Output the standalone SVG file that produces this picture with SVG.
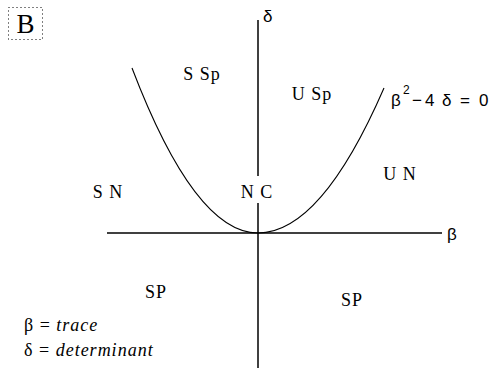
<svg xmlns="http://www.w3.org/2000/svg" width="497" height="368" viewBox="0 0 497 368">
<style>
.lbl{font-family:"Liberation Serif","Times New Roman",serif;font-size:18px;letter-spacing:1px;fill:#000}
.leg{font-family:"Liberation Serif","Times New Roman",serif;font-size:18px;letter-spacing:1px;fill:#000}
.eq{font-family:"Liberation Sans",Arial,sans-serif;font-size:17px;fill:#000}
.ax{stroke:#000;stroke-width:1.5;fill:none}
.cur{stroke:#000;stroke-width:1.1;fill:none}
</style>
<rect width="497" height="368" fill="#fff"/>
<g id="badge">
<rect x="8.5" y="7.5" width="34" height="32" fill="#fff" stroke="#000" stroke-width="1" stroke-dasharray="1,3"/>
<text x="25.5" y="33" text-anchor="middle" font-family="Liberation Serif,serif" font-size="27">B</text>
</g>
<g id="connectors">
<line class="ax" x1="258" y1="20" x2="258" y2="368"/>
<line class="ax" x1="107" y1="233" x2="442" y2="233"/>
<path class="cur" d="M132,68 Q195,233 258,233 Q321,233 384,88"/>
</g>
<g id="axis-labels">
<text class="eq" x="263" y="22">δ</text>
<text class="eq" x="447" y="240">β</text>
</g>
<g id="regions">
<text class="lbl" x="202" y="80" text-anchor="middle">S Sp</text>
<text class="lbl" x="312" y="100" text-anchor="middle">U Sp</text>
<text class="lbl" x="108" y="198" text-anchor="middle">S N</text>
<rect x="239" y="176" width="36" height="27" fill="#fff"/>
<text class="lbl" x="257" y="198" text-anchor="middle">N C</text>
<text class="lbl" x="400" y="180" text-anchor="middle">U N</text>
<text class="lbl" x="156" y="298" text-anchor="middle">SP</text>
<text class="lbl" x="352" y="306" text-anchor="middle">SP</text>
</g>
<g id="equation">
<text class="eq" y="106"><tspan x="391">β</tspan><tspan x="403" y="94" font-size="12">2</tspan><tspan x="412" y="106">−</tspan><tspan x="425">4</tspan><tspan x="442">δ</tspan><tspan x="460">=</tspan><tspan x="479">0</tspan></text>
</g>
<g id="legend">
<text class="leg" x="24" y="331">β = <tspan font-style="italic">trace</tspan></text>
<text class="leg" x="24" y="356">δ = <tspan font-style="italic">determinant</tspan></text>
</g>
</svg>
